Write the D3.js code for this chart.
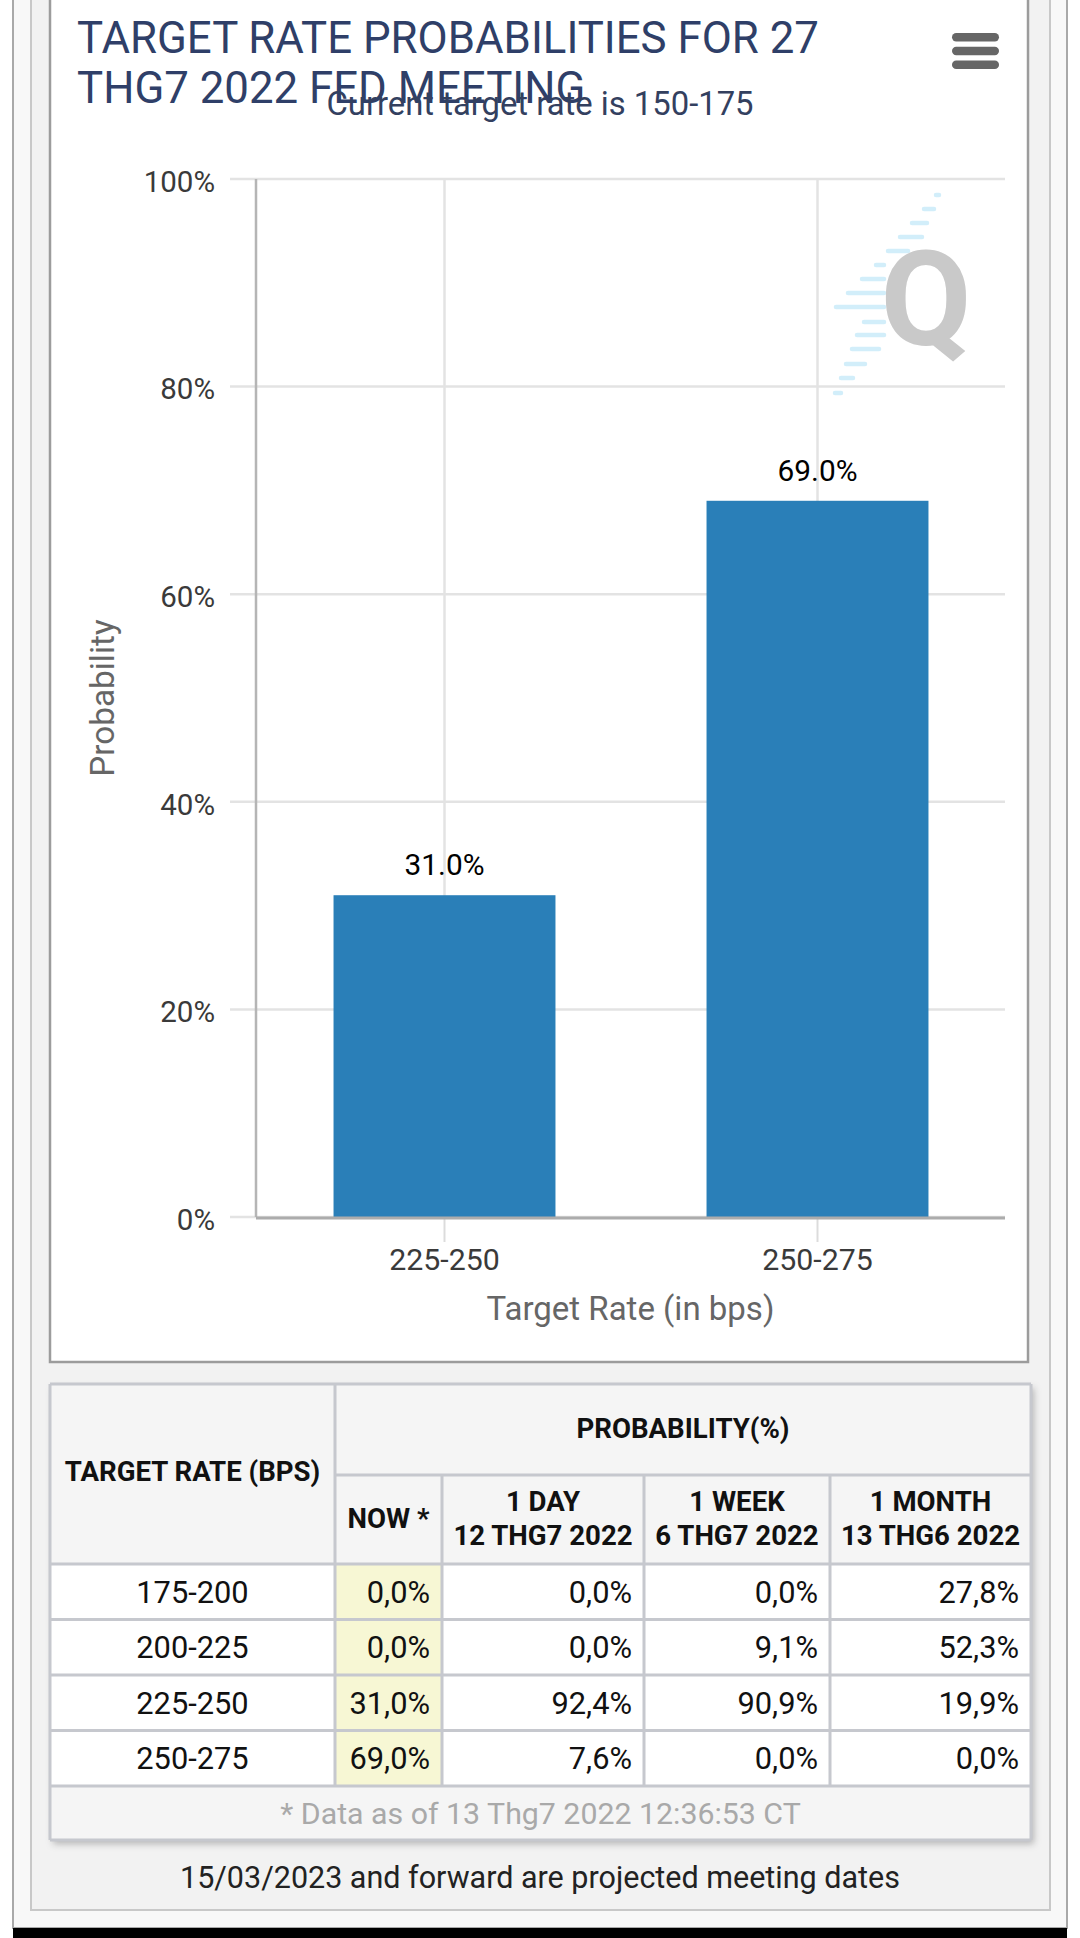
<!DOCTYPE html>
<html>
<head>
<meta charset="utf-8">
<script src="https://cdn.jsdelivr.net/npm/d3@7"></script>
<style>
  html, body { margin: 0; padding: 0; background: #fff; }
  svg { display: block; font-family: Roboto, "Noto Sans", sans-serif; }
</style>
</head>
<body>
<svg id="chart" width="1080" height="1938"></svg>
<script>
// ---------- DATA ----------
const titleLines = ["TARGET RATE PROBABILITIES FOR 27", "THG7 2022 FED MEETING"];
const subtitle = "Current target rate is 150-175";
const categories = ["225-250", "250-275"];
const probabilities = [31.0, 69.0];
const yTicks = [0, 20, 40, 60, 80, 100];
const yAxisTitle = "Probability";
const xAxisTitle = "Target Rate (in bps)";

const tableRates = ["175-200", "200-225", "225-250", "250-275"];
const nowProb = [0.0, 0.0, 31.0, 69.0];
const dayProb = [0.0, 0.0, 92.4, 7.6];
const weekProb = [0.0, 9.1, 90.9, 0.0];
const monthProb = [27.8, 52.3, 19.9, 0.0];
const colHeaders = [["NOW *"], ["1 DAY", "12 THG7 2022"], ["1 WEEK", "6 THG7 2022"], ["1 MONTH", "13 THG6 2022"]];
const rateHeader = "TARGET RATE (BPS)";
const probHeader = "PROBABILITY(%)";
const footerNote = "* Data as of 13 Thg7 2022 12:36:53 CT";
const bottomNote = "15/03/2023 and forward are projected meeting dates";

// ---------- LAYOUT ----------
const svg = d3.select("#chart");
const navy = "#2f3f68";

// page frames
svg.append("rect").attr("x", 0).attr("y", 0).attr("width", 1080).attr("height", 1938).attr("fill", "#fff");
svg.append("rect").attr("x", 13).attr("y", -10).attr("width", 1054).attr("height", 1938)
  .attr("fill", "#f8f8f8").attr("stroke", "#a9a9a9").attr("stroke-width", 2);
svg.append("rect").attr("x", 31).attr("y", -10).attr("width", 1019).attr("height", 1920)
  .attr("fill", "#f2f2f2").attr("stroke", "#c8c8c8").attr("stroke-width", 2);
svg.append("rect").attr("x", 50).attr("y", -10).attr("width", 978).attr("height", 1372)
  .attr("fill", "#fff").attr("stroke", "#9c9c9c").attr("stroke-width", 2.5);
svg.append("rect").attr("x", 13).attr("y", 1928).attr("width", 1054).attr("height", 10).attr("fill", "#000");

// ---------- CHART ----------
const plot = { left: 256, right: 1005, top: 179, bottom: 1217 };
const x = d3.scaleBand().domain(categories).range([plot.left + 2, plot.right - 1]).padding(0);
const y = d3.scaleLinear().domain([0, 100]).range([plot.bottom, plot.top]);

// horizontal gridlines
svg.append("g").selectAll("line").data(yTicks).join("line")
  .attr("x1", plot.left - 26).attr("x2", plot.right)
  .attr("y1", d => y(d)).attr("y2", d => y(d))
  .attr("stroke", "#e3e3e3").attr("stroke-width", 2.5);

// vertical gridlines at category centers
svg.append("g").selectAll("line").data(categories).join("line")
  .attr("x1", d => x(d) + x.bandwidth() / 2).attr("x2", d => x(d) + x.bandwidth() / 2)
  .attr("y1", plot.top).attr("y2", plot.bottom)
  .attr("stroke", "#e3e3e3").attr("stroke-width", 2.5);

// watermark logo (decorative)
const wm = svg.append("g");
const stripes = [[936,939,195],[924,934,209],[912,927,223],[900,922,237],[888,908,251],[876,884,265],[862,884,279],[848,884,293],[836,884,307],[864,884,322],[857,884,335],[852,879,349],[846,865,364],[841,853,378],[835,841,393]];
wm.selectAll("line").data(stripes).join("line")
  .attr("x1", d => d[0]).attr("x2", d => d[1]).attr("y1", d => d[2]).attr("y2", d => d[2])
  .attr("stroke", "#d2eefa").attr("stroke-width", 4.5).attr("stroke-linecap", "round");
wm.append("text").attr("x", 926).attr("y", 345).attr("text-anchor", "middle")
  .attr("font-size", 132).attr("font-weight", 700).attr("fill", "#c9c9c9")
  .attr("font-family", "Roboto, sans-serif").text("Q");

// bars
const barW = x.bandwidth() * 0.595;
svg.append("g").selectAll("rect").data(categories).join("rect")
  .attr("x", d => x(d) + (x.bandwidth() - barW) / 2)
  .attr("width", barW)
  .attr("y", (d, i) => y(probabilities[i]))
  .attr("height", (d, i) => y(0) - y(probabilities[i]))
  .attr("fill", "#2a7fb8");

// value labels
svg.append("g").selectAll("text").data(categories).join("text")
  .attr("x", d => x(d) + x.bandwidth() / 2)
  .attr("y", (d, i) => y(probabilities[i]) - 20)
  .attr("text-anchor", "middle").attr("font-size", 29.8).attr("fill", "#000")
  .text((d, i) => d3.format(".1f")(probabilities[i]) + "%");

// y axis line
svg.append("line").attr("x1", plot.left).attr("x2", plot.left)
  .attr("y1", plot.top).attr("y2", plot.bottom)
  .attr("stroke", "#b5b5b5").attr("stroke-width", 2.5);

// y axis labels
const yAxis = svg.append("g").attr("transform", `translate(${plot.left},0)`)
  .call(d3.axisLeft(y).tickValues(yTicks).tickFormat(d => d + "%").tickSize(0).tickPadding(41));
yAxis.select(".domain").remove();
yAxis.selectAll("text").attr("font-size", 29.5).attr("fill", "#3a3a3a")
  .attr("font-family", "Roboto, sans-serif").attr("dy", "0.42em");

// x axis
const xAxis = svg.append("g").attr("transform", `translate(0,${plot.bottom})`)
  .call(d3.axisBottom(x).tickSize(25).tickPadding(6));
xAxis.select(".domain").remove();
xAxis.selectAll(".tick line").attr("stroke", "#dcdcdc").attr("stroke-width", 2);
xAxis.selectAll("text").attr("font-size", 30.3).attr("fill", "#3a3a3a").attr("font-family", "Roboto, sans-serif");
svg.append("line").attr("x1", plot.left).attr("x2", plot.right)
  .attr("y1", plot.bottom + 1).attr("y2", plot.bottom + 1)
  .attr("stroke", "#acacac").attr("stroke-width", 3);

// axis titles
svg.append("text").attr("transform", `translate(114,${(plot.top + plot.bottom) / 2}) rotate(-90)`)
  .attr("text-anchor", "middle").attr("font-size", 33.3).attr("fill", "#666").text(yAxisTitle);
svg.append("text").attr("x", (plot.left + plot.right) / 2).attr("y", 1320)
  .attr("text-anchor", "middle").attr("font-size", 33).attr("fill", "#666").text(xAxisTitle);

// title & subtitle
svg.append("g").selectAll("text").data(titleLines).join("text")
  .attr("x", 77).attr("y", (d, i) => 53 + i * 50)
  .attr("font-size", 43.8).attr("fill", navy).text(d => d);
svg.append("text").attr("x", 540).attr("y", 115).attr("text-anchor", "middle")
  .attr("font-size", 32.8).attr("fill", "#33405f").text(subtitle);

// hamburger menu
svg.append("g").selectAll("rect").data([0, 1, 2]).join("rect")
  .attr("x", 952).attr("y", d => 33 + d * 13.8).attr("width", 47).attr("height", 8.5)
  .attr("rx", 4.2).attr("fill", "#666");

// ---------- TABLE ----------
const colX = [50, 335, 442, 644, 830, 1031];
const tTop = 1384, h1 = 1475, h2 = 1564, rowsEnd = 1786, tBottom = 1840;
const rowY = d3.scaleBand().domain(tableRates).range([h2, rowsEnd]);
const probCols = [nowProb, dayProb, weekProb, monthProb];
const fmtComma = v => d3.format(".1f")(v).replace(".", ",") + "%";
const border = "#c6c8ce";

const defs = svg.append("defs");
const f = defs.append("filter").attr("id", "shadow").attr("x", "-5%").attr("y", "-5%").attr("width", "115%").attr("height", "115%");
f.append("feDropShadow").attr("dx", 3).attr("dy", 4).attr("stdDeviation", 3.5).attr("flood-color", "#000").attr("flood-opacity", 0.25);

const table = svg.append("g");
table.append("rect").attr("x", colX[0]).attr("y", tTop).attr("width", colX[5] - colX[0]).attr("height", tBottom - tTop)
  .attr("fill", "#f5f5f5").attr("filter", "url(#shadow)");
table.append("rect").attr("x", colX[0]).attr("y", h2).attr("width", colX[5] - colX[0]).attr("height", rowsEnd - h2).attr("fill", "#fff");
table.append("rect").attr("x", colX[1]).attr("y", h2).attr("width", colX[2] - colX[1]).attr("height", rowsEnd - h2).attr("fill", "#f7f7d4");

const hLines = [[colX[0], colX[5], tTop], [colX[1], colX[5], h1], [colX[0], colX[5], h2]]
  .concat(tableRates.map(r => [colX[0], colX[5], rowY(r) + rowY.bandwidth()]))
  .concat([[colX[0], colX[5], tBottom]]);
table.append("g").selectAll("line").data(hLines).join("line")
  .attr("x1", d => d[0]).attr("x2", d => d[1]).attr("y1", d => d[2]).attr("y2", d => d[2])
  .attr("stroke", border).attr("stroke-width", 3);
const vLines = [[colX[0], tTop, tBottom], [colX[5], tTop, tBottom], [colX[1], tTop, rowsEnd],
  [colX[2], h1, rowsEnd], [colX[3], h1, rowsEnd], [colX[4], h1, rowsEnd]];
table.append("g").selectAll("line").data(vLines).join("line")
  .attr("x1", d => d[0]).attr("x2", d => d[0]).attr("y1", d => d[1]).attr("y2", d => d[2])
  .attr("stroke", border).attr("stroke-width", 3);

const hdrSize = 27.6;
table.append("text").attr("x", (colX[0] + colX[1]) / 2).attr("y", 1481).attr("text-anchor", "middle")
  .attr("font-size", hdrSize).attr("font-weight", 700).attr("fill", "#111").text(rateHeader);
table.append("text").attr("x", (colX[1] + colX[5]) / 2).attr("y", 1438).attr("text-anchor", "middle")
  .attr("font-size", hdrSize).attr("font-weight", 700).attr("fill", "#111").text(probHeader);
colHeaders.forEach((lines, ci) => {
  const cx = (colX[ci + 1] + colX[ci + 2]) / 2;
  const baseY = lines.length === 1 ? 1528 : 1511;
  table.append("g").selectAll("text").data(lines).join("text")
    .attr("x", cx).attr("y", (d, i) => baseY + i * 33.5).attr("text-anchor", "middle")
    .attr("font-size", hdrSize).attr("font-weight", 700).attr("fill", "#111").text(d => d);
});

const cellSize = 30.8;
table.append("g").selectAll("text").data(tableRates).join("text")
  .attr("x", (colX[0] + colX[1]) / 2).attr("y", d => rowY(d) + rowY.bandwidth() / 2 + 11)
  .attr("text-anchor", "middle").attr("font-size", cellSize).attr("fill", "#111").text(d => d);
probCols.forEach((vals, ci) => {
  table.append("g").selectAll("text").data(tableRates).join("text")
    .attr("x", colX[ci + 2] - 12).attr("y", d => rowY(d) + rowY.bandwidth() / 2 + 11)
    .attr("text-anchor", "end").attr("font-size", cellSize).attr("fill", "#111")
    .text((d, i) => fmtComma(vals[i]));
});
table.append("text").attr("x", (colX[0] + colX[5]) / 2).attr("y", 1824).attr("text-anchor", "middle")
  .attr("font-size", 30.3).attr("fill", "#a9a9a9").text(footerNote);

svg.append("text").attr("x", 540).attr("y", 1888).attr("text-anchor", "middle")
  .attr("font-size", 30.5).attr("fill", "#222").text(bottomNote);
</script>
</body>
</html>
